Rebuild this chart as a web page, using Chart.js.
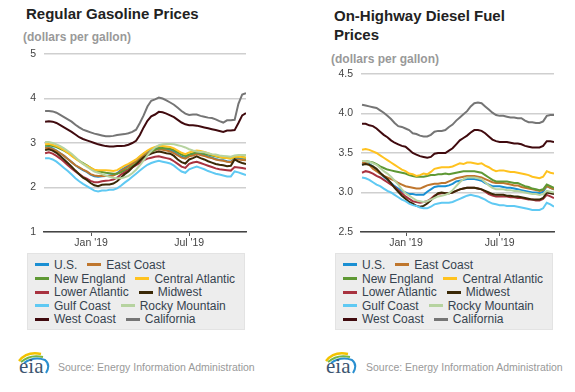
<!DOCTYPE html>
<html>
<head>
<meta charset="utf-8">
<script src="https://cdn.jsdelivr.net/npm/chart.js@4.4.0/dist/chart.umd.min.js"></script>
<style>
  body { margin: 0; background: #fff; font-family: "Liberation Sans", Arial, sans-serif; }
  #page { position: relative; width: 575px; height: 392px; overflow: hidden; }
  .title { position: absolute; font-size: 15px; font-weight: bold; color: #222; line-height: 19px; }
  .units { position: absolute; font-size: 12px; font-weight: bold; color: #999; line-height: 12px; white-space: nowrap; }
  canvas { position: absolute; top: 0; }
  .legend { position: absolute; top: 253px; width: 218px; height: 77px; box-sizing: border-box;
            background: #ededed; border: 1px solid #e3e3e3; padding: 5px 0 0 7px; font-size: 12px; color: #36434f; }
  .legend .row { height: 13.6px; line-height: 13.6px; white-space: nowrap; }
  .legend .item { display: inline-block; margin-right: 10px; }
  .legend .swatch { display: inline-block; width: 14px; height: 3px; margin-right: 5px; vertical-align: middle; position: relative; top: -1px; }
  .source { position: absolute; top: 361px; font-size: 10.5px; line-height: 12px; color: #999; white-space: nowrap; }
  .logo { position: absolute; top: 350px; }
</style>
</head>
<body>
<div id="page">
  <div class="title" style="left:26px; top:4px;">Regular Gasoline Prices</div>
  <div class="units" style="left:23px; top:31px;">(dollars per gallon)</div>
  <div class="title" style="left:334px; top:6px; width:200px;">On-Highway Diesel Fuel Prices</div>
  <div class="units" style="left:331px; top:53px;">(dollars per gallon)</div>

  <canvas id="gasChart" width="290" height="250" style="left:0;"></canvas>
  <canvas id="dieselChart" width="285" height="250" style="left:290px;"></canvas>

  <div class="legend" id="gasLegend" style="left:27px;"></div>
  <div class="legend" id="dieselLegend" style="left:335px;"></div>

  <svg class="logo" style="left:16px" width="36" height="26" viewBox="0 0 36 26">
    <path d="M3 11 Q11 1 25 4" stroke="#f3c300" stroke-width="2.4" fill="none"/>
    <path d="M5 12 Q14 4 27 7" stroke="#76b545" stroke-width="2" fill="none"/>
    <path d="M8 13 Q18 6 29 10 Q35 15 30 23" stroke="#2a8fd0" stroke-width="2" fill="none"/>
    <text x="3" y="23" font-family="Liberation Serif, serif" font-size="21" fill="#3b5570">eia</text>
  </svg>
  <div class="source" style="left:58px;">Source: Energy Information Administration</div>

  <svg class="logo" style="left:323px" width="36" height="26" viewBox="0 0 36 26">
    <path d="M3 11 Q11 1 25 4" stroke="#f3c300" stroke-width="2.4" fill="none"/>
    <path d="M5 12 Q14 4 27 7" stroke="#76b545" stroke-width="2" fill="none"/>
    <path d="M8 13 Q18 6 29 10 Q35 15 30 23" stroke="#2a8fd0" stroke-width="2" fill="none"/>
    <text x="3" y="23" font-family="Liberation Serif, serif" font-size="21" fill="#3b5570">eia</text>
  </svg>
  <div class="source" style="left:366px;">Source: Energy Information Administration</div>
</div>

<script>
// weekly prices, first week Oct 8 2018
var firstWeek = '2018-10-08';
var regionNames = ['U.S.', 'East Coast', 'New England', 'Central Atlantic', 'Lower Atlantic',
                   'Midwest', 'Gulf Coast', 'Rocky Mountain', 'West Coast', 'California'];
var regionColors = ['#1a8fd3', '#bf762d', '#5e9834', '#ffc21f', '#a8323f',
                    '#3a2806', '#5fc9f3', '#b6d3a0', '#400a0e', '#757575'];

var xTickDates = ['2019-01-01', '2019-07-01'];
var xTickLabels = ["Jan '19", "Jul '19"];
var xRange = ['2018-10-06', '2019-10-14'];
var gasTicks = [1, 2, 3, 4, 5];
var dieselTicks = [2.5, 3.0, 3.5, 4.0, 4.5];

// Regular gasoline
var gasUS = [2.90,2.91,2.88,2.83,2.77,2.71,2.64,2.57,2.50,2.44,2.39,2.35,2.29,2.25,2.24,2.25,2.26,2.27,2.28,2.32,
  2.39,2.44,2.49,2.56,2.62,2.69,2.76,2.81,2.85,2.88,2.89,2.87,2.85,2.84,2.80,2.74,2.69,2.67,2.73,2.75,
  2.78,2.75,2.73,2.70,2.67,2.64,2.62,2.61,2.59,2.58,2.65,2.65,2.64,2.63];
var gasEastCoast = [2.88,2.89,2.86,2.82,2.77,2.71,2.64,2.57,2.50,2.45,2.40,2.36,2.30,2.27,2.26,2.26,2.26,2.26,2.27,2.31,
  2.37,2.42,2.47,2.53,2.58,2.65,2.72,2.77,2.81,2.84,2.86,2.85,2.83,2.81,2.77,2.72,2.67,2.65,2.70,2.72,
  2.75,2.73,2.71,2.68,2.66,2.63,2.61,2.60,2.58,2.57,2.63,2.63,2.62,2.61];
var gasNewEngland = [2.94,2.95,2.93,2.91,2.87,2.83,2.78,2.72,2.66,2.60,2.55,2.50,2.44,2.39,2.36,2.35,2.33,2.32,2.31,2.31,
  2.34,2.38,2.42,2.48,2.54,2.61,2.68,2.74,2.80,2.85,2.88,2.89,2.88,2.87,2.84,2.79,2.74,2.71,2.74,2.77,
  2.79,2.78,2.76,2.74,2.72,2.70,2.68,2.67,2.66,2.65,2.68,2.69,2.68,2.67];
var gasCentralAtlantic = [2.97,2.98,2.96,2.93,2.89,2.84,2.78,2.71,2.65,2.59,2.53,2.49,2.44,2.40,2.39,2.39,2.39,2.38,2.37,2.39,
  2.44,2.49,2.53,2.58,2.63,2.70,2.77,2.83,2.88,2.91,2.93,2.93,2.92,2.91,2.88,2.83,2.78,2.75,2.79,2.81,
  2.83,2.82,2.80,2.77,2.74,2.71,2.69,2.67,2.66,2.65,2.69,2.69,2.68,2.67];
var gasLowerAtlantic = [2.77,2.79,2.76,2.71,2.65,2.58,2.50,2.43,2.36,2.30,2.24,2.20,2.15,2.12,2.12,2.14,2.15,2.16,2.18,2.22,
  2.29,2.34,2.39,2.45,2.50,2.55,2.61,2.65,2.67,2.69,2.70,2.68,2.66,2.64,2.59,2.53,2.47,2.44,2.53,2.56,
  2.58,2.55,2.52,2.49,2.46,2.43,2.41,2.40,2.39,2.38,2.46,2.45,2.44,2.42];
var gasMidwest = [2.84,2.86,2.83,2.78,2.71,2.63,2.55,2.47,2.38,2.30,2.22,2.17,2.10,2.05,2.03,2.06,2.07,2.07,2.09,2.14,
  2.22,2.30,2.36,2.45,2.52,2.60,2.68,2.72,2.76,2.79,2.81,2.79,2.77,2.76,2.71,2.63,2.57,2.54,2.63,2.66,
  2.70,2.66,2.63,2.59,2.56,2.53,2.51,2.50,2.48,2.49,2.63,2.58,2.55,2.53];
var gasGulfCoast = [2.66,2.66,2.63,2.58,2.51,2.44,2.37,2.29,2.21,2.14,2.08,2.03,1.98,1.93,1.91,1.93,1.93,1.95,1.95,1.98,
  2.04,2.11,2.17,2.24,2.31,2.38,2.45,2.51,2.55,2.58,2.60,2.58,2.56,2.54,2.49,2.42,2.36,2.33,2.41,2.44,
  2.47,2.44,2.41,2.37,2.34,2.31,2.29,2.27,2.25,2.25,2.36,2.34,2.31,2.28];
var gasRockyMountain = [3.02,3.02,3.00,2.97,2.93,2.88,2.82,2.76,2.68,2.60,2.53,2.47,2.41,2.36,2.33,2.30,2.27,2.24,2.22,2.21,
  2.21,2.23,2.26,2.32,2.40,2.50,2.61,2.72,2.82,2.90,2.95,2.97,2.98,2.98,2.97,2.95,2.93,2.90,2.86,2.83,
  2.81,2.80,2.79,2.77,2.75,2.74,2.72,2.71,2.70,2.69,2.72,2.73,2.73,2.73];
var gasWestCoast = [3.48,3.49,3.48,3.45,3.40,3.35,3.30,3.25,3.19,3.13,3.09,3.06,3.03,3.00,2.97,2.95,2.93,2.92,2.92,2.93,
  2.93,2.94,2.96,3.00,3.05,3.18,3.35,3.50,3.60,3.64,3.70,3.69,3.66,3.62,3.58,3.52,3.46,3.42,3.40,3.40,
  3.39,3.37,3.35,3.33,3.31,3.29,3.27,3.25,3.28,3.28,3.29,3.45,3.62,3.67];
var gasCalifornia = [3.72,3.72,3.71,3.68,3.63,3.58,3.53,3.48,3.41,3.35,3.30,3.27,3.24,3.21,3.19,3.17,3.15,3.15,3.16,3.18,
  3.19,3.20,3.22,3.25,3.30,3.45,3.62,3.82,3.95,3.98,4.02,4.00,3.96,3.91,3.86,3.79,3.72,3.66,3.63,3.64,
  3.64,3.61,3.59,3.57,3.56,3.53,3.49,3.46,3.51,3.51,3.52,3.88,4.09,4.12];

// On-highway diesel
var dieselUS = [3.35,3.37,3.36,3.33,3.28,3.24,3.20,3.16,3.12,3.08,3.05,3.02,3.00,2.98,2.98,2.97,2.97,2.97,3.01,3.04,
  3.07,3.08,3.08,3.08,3.09,3.11,3.14,3.15,3.16,3.17,3.17,3.17,3.16,3.15,3.12,3.10,3.08,3.08,3.08,3.07,
  3.06,3.06,3.05,3.04,3.03,3.02,3.01,3.00,3.00,2.99,3.01,3.08,3.06,3.04];
var dieselEastCoast = [3.38,3.37,3.35,3.30,3.27,3.24,3.21,3.19,3.17,3.15,3.12,3.10,3.08,3.07,3.06,3.05,3.05,3.07,3.09,3.10,
  3.11,3.11,3.12,3.12,3.14,3.16,3.18,3.19,3.20,3.21,3.21,3.21,3.20,3.19,3.17,3.15,3.13,3.12,3.12,3.12,
  3.11,3.10,3.09,3.09,3.07,3.06,3.05,3.04,3.03,3.02,3.03,3.08,3.06,3.04];
var dieselNewEngland = [3.40,3.40,3.39,3.38,3.36,3.33,3.31,3.29,3.28,3.27,3.26,3.25,3.24,3.22,3.21,3.20,3.20,3.20,3.21,3.22,
  3.22,3.23,3.23,3.24,3.23,3.24,3.25,3.26,3.27,3.27,3.27,3.27,3.26,3.25,3.22,3.19,3.16,3.14,3.14,3.14,
  3.14,3.13,3.12,3.12,3.10,3.08,3.07,3.05,3.04,3.03,3.04,3.10,3.08,3.06];
var dieselCentralAtlantic = [3.54,3.55,3.54,3.52,3.50,3.47,3.44,3.41,3.38,3.35,3.32,3.29,3.27,3.24,3.23,3.21,3.22,3.24,3.23,3.26,
  3.30,3.31,3.32,3.32,3.32,3.33,3.35,3.37,3.36,3.38,3.38,3.37,3.36,3.37,3.34,3.32,3.29,3.27,3.28,3.28,
  3.27,3.26,3.26,3.25,3.24,3.23,3.22,3.20,3.19,3.18,3.20,3.27,3.25,3.24];
var dieselLowerAtlantic = [3.25,3.27,3.26,3.24,3.21,3.19,3.16,3.13,3.10,3.07,3.03,2.99,2.95,2.92,2.89,2.88,2.87,2.88,2.89,2.92,
  2.96,2.98,2.99,2.99,2.99,3.00,3.02,3.04,3.05,3.06,3.06,3.06,3.05,3.04,3.01,2.98,2.96,2.95,2.95,2.95,
  2.95,2.94,2.94,2.93,2.93,2.92,2.91,2.91,2.90,2.90,2.92,2.97,2.95,2.93];
var dieselMidwest = [3.35,3.36,3.35,3.33,3.30,3.25,3.21,3.17,3.12,3.06,3.01,2.96,2.92,2.88,2.86,2.83,2.82,2.83,2.86,2.90,
  2.95,2.99,3.00,2.99,2.99,3.00,3.02,3.04,3.05,3.06,3.06,3.06,3.05,3.04,3.02,3.00,2.98,2.97,2.97,2.97,
  2.96,2.96,2.95,2.95,2.94,2.93,2.92,2.91,2.91,2.91,2.93,3.00,2.99,2.98];
var dieselGulfCoast = [3.19,3.18,3.16,3.13,3.10,3.08,3.05,3.02,3.00,2.97,2.94,2.91,2.89,2.86,2.84,2.83,2.81,2.80,2.80,2.82,
  2.85,2.86,2.87,2.87,2.87,2.88,2.90,2.92,2.94,2.96,2.97,2.96,2.95,2.93,2.91,2.88,2.86,2.85,2.84,2.84,
  2.83,2.83,2.83,2.82,2.81,2.80,2.79,2.78,2.78,2.78,2.80,2.87,2.85,2.82];
var dieselRockyMountain = [3.40,3.40,3.39,3.37,3.35,3.31,3.27,3.24,3.20,3.15,3.10,3.04,2.99,2.96,2.93,2.90,2.89,2.88,2.89,2.91,
  2.93,2.95,2.96,2.97,2.99,3.03,3.08,3.13,3.17,3.19,3.19,3.19,3.18,3.17,3.13,3.09,3.06,3.04,3.04,3.04,
  3.03,3.03,3.02,3.02,3.01,3.00,2.99,2.98,2.98,2.97,2.98,3.02,3.01,3.00];
var dieselWestCoast = [3.87,3.87,3.85,3.84,3.81,3.77,3.73,3.70,3.66,3.63,3.61,3.59,3.58,3.54,3.50,3.48,3.46,3.45,3.44,3.45,
  3.49,3.50,3.50,3.50,3.53,3.56,3.61,3.66,3.69,3.72,3.76,3.79,3.79,3.78,3.75,3.71,3.67,3.65,3.64,3.64,
  3.64,3.63,3.62,3.62,3.61,3.59,3.58,3.57,3.57,3.57,3.59,3.65,3.65,3.64];
var dieselCalifornia = [4.11,4.10,4.09,4.08,4.07,4.04,4.01,3.97,3.93,3.88,3.84,3.83,3.81,3.79,3.75,3.74,3.72,3.71,3.71,3.73,
  3.77,3.78,3.78,3.79,3.83,3.86,3.91,3.95,3.99,4.03,4.09,4.13,4.14,4.13,4.09,4.05,4.01,3.98,3.97,3.97,
  3.96,3.95,3.95,3.94,3.94,3.91,3.89,3.89,3.88,3.88,3.90,3.97,3.98,3.98];

var gasSeries = [gasUS, gasEastCoast, gasNewEngland, gasCentralAtlantic, gasLowerAtlantic,
                 gasMidwest, gasGulfCoast, gasRockyMountain, gasWestCoast, gasCalifornia];
var dieselSeries = [dieselUS, dieselEastCoast, dieselNewEngland, dieselCentralAtlantic, dieselLowerAtlantic,
                    dieselMidwest, dieselGulfCoast, dieselRockyMountain, dieselWestCoast, dieselCalifornia];

var FONT = '"Liberation Sans", Arial, sans-serif';
var DAY = 86400000;
var yearStart = Date.parse('2019-01-01');

// days from Jan 1 2019, so the axis can run linear
function toDay(iso) {
  return Math.round((Date.parse(iso) - yearStart) / DAY);
}

var weekZero = toDay(firstWeek);
var xTickDays = xTickDates.map(toDay);

function buildDatasets(series) {
  var sets = [];
  for (var i = 0; i < series.length; i++) {
    var pts = [];
    for (var j = 0; j < series[i].length; j++) {
      pts.push({x: weekZero + 7 * j, y: series[i][j]});
    }
    sets.push({
      label: regionNames[i],
      data: pts,
      borderColor: regionColors[i],
      backgroundColor: regionColors[i],
      borderWidth: 2,
      pointRadius: 0,
      tension: 0,
      order: series.length - i   // later regions paint on top
    });
  }
  return sets;
}

function makeChart(id, series, yTicks, decimals, pad, axisWidth) {
  return new Chart(document.getElementById(id), {
    type: 'line',
    data: {datasets: buildDatasets(series)},
    options: {
      responsive: false,
      animation: false,
      layout: {padding: pad},
      plugins: {legend: {display: false}, tooltip: {enabled: false}},
      scales: {
        x: {
          type: 'linear',
          min: toDay(xRange[0]),
          max: toDay(xRange[1]),
          afterBuildTicks: function(scale) {
            scale.ticks = xTickDays.map(function(d) { return {value: d}; });
          },
          afterFit: function(scale) { scale.height = 18; },
          grid: {drawOnChartArea: false, drawTicks: true, tickLength: 4, color: '#555', lineWidth: 1},
          border: {display: true, color: '#444', width: 1.5},
          ticks: {
            autoSkip: false, maxRotation: 0, padding: 1, color: '#444',
            font: {family: FONT, size: 10.5},
            callback: function(value) {
              var k = xTickDays.indexOf(value);
              return k >= 0 ? xTickLabels[k] : '';
            }
          }
        },
        y: {
          min: yTicks[0],
          max: yTicks[yTicks.length - 1],
          afterBuildTicks: function(scale) {
            scale.ticks = yTicks.map(function(v) { return {value: v}; });
          },
          afterFit: function(scale) { scale.width = axisWidth; },
          grid: {color: '#cfcfcf', lineWidth: 1.5, drawTicks: false},
          border: {display: false},
          ticks: {
            padding: 8, color: '#444',
            font: {family: FONT, size: 10.5},
            callback: function(value) { return value.toFixed(decimals); }
          }
        }
      }
    }
  });
}

function makeLegend(el) {
  var html = '';
  for (var i = 0; i < regionNames.length; i += 2) {
    html += '<div class="row">';
    for (var j = i; j < i + 2 && j < regionNames.length; j++) {
      html += '<span class="item"><span class="swatch" style="background:' + regionColors[j] + '"></span>' +
              regionNames[j] + '</span>';
    }
    html += '</div>';
  }
  el.innerHTML = html;
}

makeChart('gasChart', gasSeries, gasTicks, 0, {top: 54, right: 44, bottom: 0, left: 0}, 44);
makeChart('dieselChart', dieselSeries, dieselTicks, 1, {top: 74, right: 21, bottom: 0, left: 0}, 71);
makeLegend(document.getElementById('gasLegend'));
makeLegend(document.getElementById('dieselLegend'));
</script>
</body>
</html>
